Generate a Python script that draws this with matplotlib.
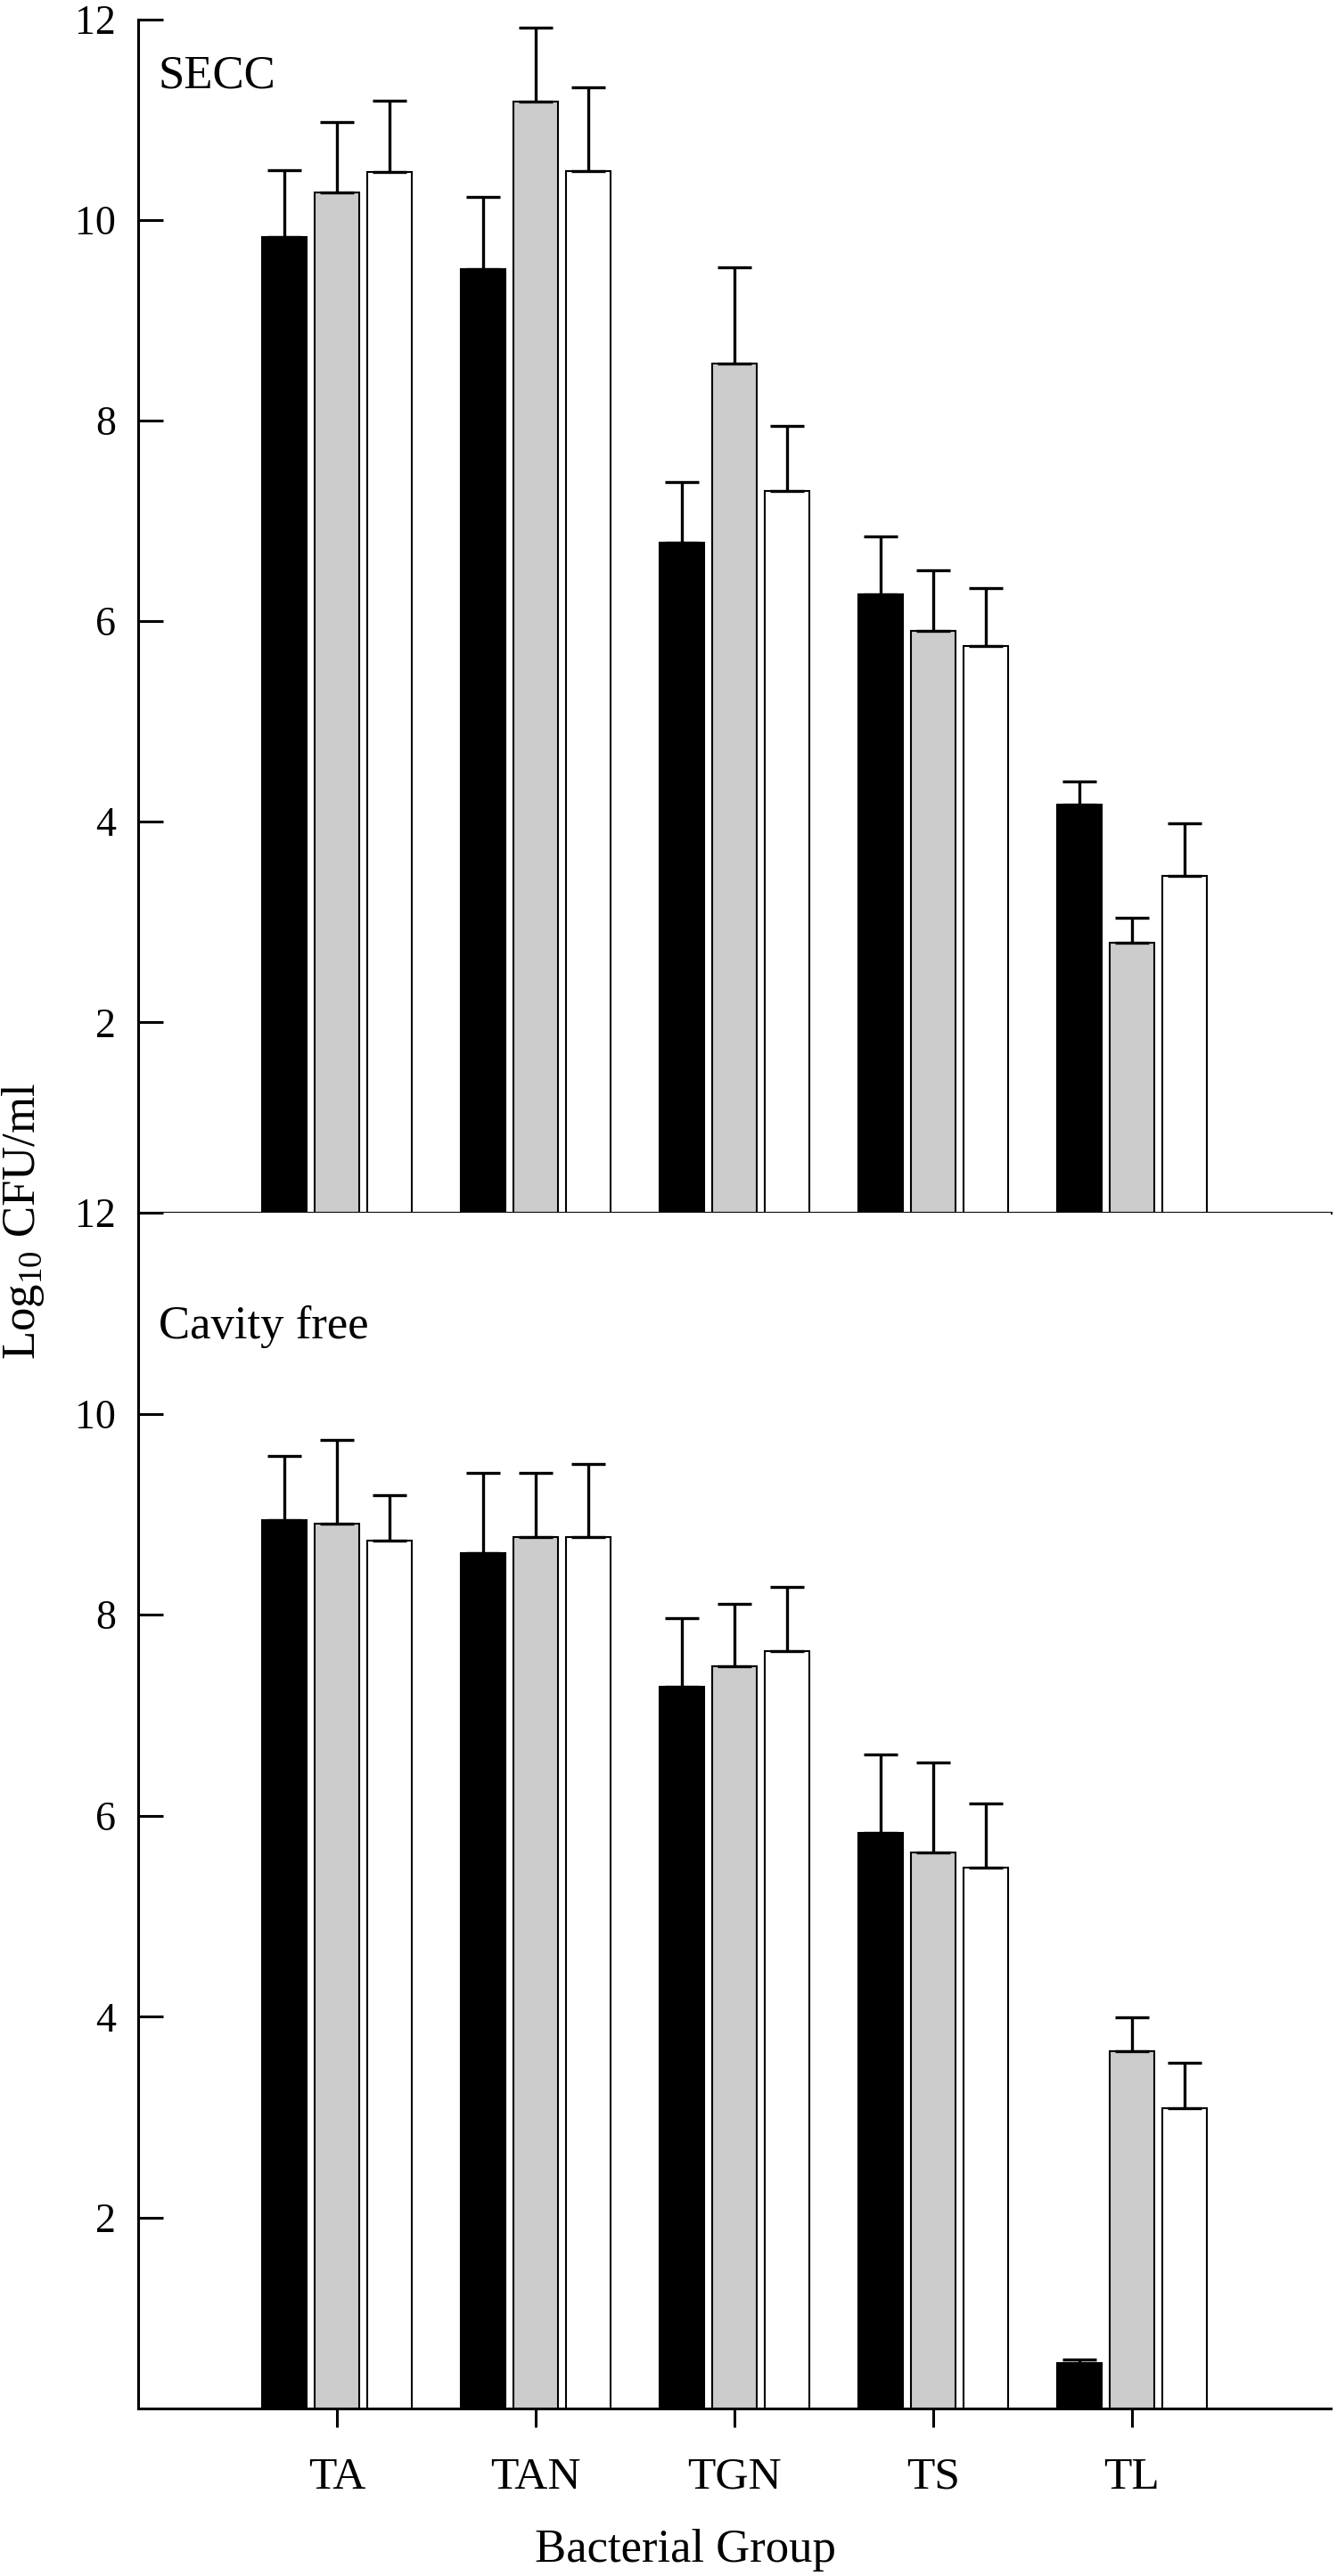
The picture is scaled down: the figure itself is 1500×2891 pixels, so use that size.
import numpy as np
import matplotlib
matplotlib.use("Agg")
import matplotlib.pyplot as plt

plt.rcParams["font.family"] = ["Liberation Serif", "DejaVu Serif"]
plt.rcParams["mathtext.fontset"] = "custom"
plt.rcParams["mathtext.rm"] = "Liberation Serif"

groups = ["TA", "TAN", "TGN", "TS", "TL"]

# SECC panel (mean and upper error)
secc_black = [9.83, 9.51, 6.78, 6.27, 4.17]
secc_gray = [10.28, 11.18, 8.57, 5.90, 2.79]
secc_white = [10.48, 10.49, 7.30, 5.75, 3.46]
secc_black_err = [0.67, 0.72, 0.61, 0.58, 0.23]
secc_gray_err = [0.70, 0.74, 0.96, 0.61, 0.25]
secc_white_err = [0.71, 0.83, 0.65, 0.58, 0.52]

# Cavity free panel
cf_black = [8.94, 8.61, 7.28, 5.83, 0.55]
cf_gray = [8.91, 8.77, 7.49, 5.63, 3.66]
cf_white = [8.74, 8.77, 7.64, 5.48, 3.09]
cf_black_err = [0.64, 0.80, 0.69, 0.78, 0.04]
cf_gray_err = [0.83, 0.64, 0.62, 0.90, 0.33]
cf_white_err = [0.45, 0.73, 0.64, 0.64, 0.45]

colors = ["black", "#cccccc", "white"]
yticks = [2, 4, 6, 8, 10, 12]

fig = plt.figure(figsize=(15, 28.91), dpi=100)
ax_top = fig.add_axes([0.1033, 0.5292, 0.8920, 0.4632])
ax_bot = fig.add_axes([0.1033, 0.0650, 0.8920, 0.4642])

x = np.arange(1, len(groups) + 1)
width = 0.224
offset = 0.265


def draw_panel(ax, means, errs, label, label_y):
    for k, (m, e, c) in enumerate(zip(means, errs, colors)):
        xs = x + (k - 1) * offset
        ax.bar(xs, m, width=width, color=c, edgecolor="black", linewidth=1.5, zorder=2)
        ax.errorbar(xs, m, yerr=[np.zeros(len(e)), e], fmt="none", ecolor="black",
                    elinewidth=2.4, capsize=14, capthick=2.4, zorder=3)
    ax.set_xlim(0, 6)
    ax.set_ylim(0.1, 12)
    ax.set_xticks(x)
    ax.set_yticks(yticks)
    ax.spines["top"].set_visible(False)
    ax.spines["right"].set_visible(False)
    for s in ["left", "bottom"]:
        ax.spines[s].set_linewidth(2.2)
    ax.tick_params(axis="y", direction="in", length=20, width=2.2, labelsize=33, pad=18)
    ax.tick_params(axis="x", direction="out", length=15, width=2.2, labelsize=37, pad=24)
    ax.text(0.0172, label_y, label, transform=ax.transAxes, fontsize=38, va="baseline", ha="left")


draw_panel(ax_top, [secc_black, secc_gray, secc_white],
           [secc_black_err, secc_gray_err, secc_white_err], "SECC", 0.9425)
draw_panel(ax_bot, [cf_black, cf_gray, cf_white],
           [cf_black_err, cf_gray_err, cf_white_err], "Cavity free", 0.895)

ax_top.set_xticklabels([])
ax_bot.set_xticklabels(groups)

fig.text(769 / 1500, 1 - 2875 / 2891, "Bacterial Group", fontsize=38, ha="center", va="baseline")
fig.text(26 / 1500, 1 - 1371 / 2891, r"Log$_{\mathrm{10}}$ CFU/ml", fontsize=38,
         rotation=90, ha="center", va="center")

fig.savefig("out.png", dpi=100)
